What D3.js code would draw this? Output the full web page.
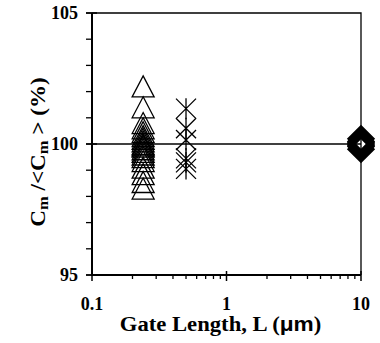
<!DOCTYPE html>
<html>
<head>
<meta charset="utf-8">
<script src="https://cdn.jsdelivr.net/npm/d3@7"></script>
<style>
body { margin: 0; background: #fff; }
text { font-family: "Liberation Serif", "Times New Roman", serif; font-weight: bold; fill: #000; }
</style>
</head>
<body>
<div id="chart"></div>
<script>
// gate length groups (um) and normalised capacitance values (%)
let triangleL = 0.24;
let triangleVals = [102.2, 101.4, 100.8, 100.6, 100.45, 100.3, 100.2, 100.1, 100.0, 99.95,
    99.9, 99.8, 99.7, 99.6, 99.5, 99.35, 99.1, 98.85, 98.55, 98.3];
let starL = 0.5;
let starVals = [101.35, 100.6, 100.15, 99.45, 99.3, 99.05];
let diamondL = 10;
let diamondVals = [100.2, 100.1, 100.0, 99.9, 99.8, 100.05, 99.95];

let xTicks = [0.1, 1, 10];
let yTicks = [95, 100, 105];

let boxWidth = 380;
let boxHeight = 343;
let margin = {top: 13, right: 19, bottom: 68, left: 92};
let width = boxWidth - margin.left - margin.right;
let height = boxHeight - margin.top - margin.bottom;

let svg = d3.select("#chart")
    .append("svg")
    .attr("width", boxWidth)
    .attr("height", boxHeight);

let plotGroup = svg.append("g")
    .attr("transform", `translate(${margin.left}, ${margin.top})`);

let x = d3.scaleLog().domain([0.1, 10]).range([0, width]);
let y = d3.scaleLinear().domain([95, 105]).range([height, 0]);

// frame on top and right
plotGroup.append("path")
    .attr("d", `M0,0H${width}V${height}`)
    .attr("fill", "none")
    .attr("stroke", "#000")
    .attr("stroke-width", 1.3);

// line at 100 %
plotGroup.append("line")
    .attr("x1", 0).attr("x2", width)
    .attr("y1", y(100)).attr("y2", y(100))
    .attr("stroke", "#000")
    .attr("stroke-width", 1.3);

// minor ticks
let xMinor = [];
[0.1, 1].forEach(d => { for (let k = 2; k < 10; k++) xMinor.push(d * k); });
let yMinor = d3.range(95, 106, 1);

plotGroup.selectAll(".xminor")
    .data(xMinor)
    .enter()
    .append("line")
    .attr("x1", d => x(d)).attr("x2", d => x(d))
    .attr("y1", height).attr("y2", height + 4)
    .attr("stroke", "#000").attr("stroke-width", 1.3);

plotGroup.selectAll(".xmajor")
    .data(xTicks)
    .enter()
    .append("line")
    .attr("x1", d => x(d)).attr("x2", d => x(d))
    .attr("y1", height - 4).attr("y2", height + 6)
    .attr("stroke", "#000").attr("stroke-width", 1.5);

plotGroup.selectAll(".yminor")
    .data(yMinor)
    .enter()
    .append("line")
    .attr("x1", -6).attr("x2", 0)
    .attr("y1", d => y(d)).attr("y2", d => y(d))
    .attr("stroke", "#000").attr("stroke-width", 1.3);

plotGroup.selectAll(".ymajor")
    .data(yTicks)
    .enter()
    .append("line")
    .attr("x1", -6).attr("x2", 5)
    .attr("y1", d => y(d)).attr("y2", d => y(d))
    .attr("stroke", "#000").attr("stroke-width", 1.5);

// axis lines
plotGroup.append("path")
    .attr("d", `M0,0V${height}H${width}`)
    .attr("fill", "none")
    .attr("stroke", "#000")
    .attr("stroke-width", 2);

// tick labels
plotGroup.selectAll(".xlab")
    .data(xTicks)
    .enter()
    .append("text")
    .attr("x", d => x(d))
    .attr("y", height + 35)
    .attr("text-anchor", "middle")
    .attr("font-size", "18px")
    .text(d => d);

plotGroup.selectAll(".ylab")
    .data(yTicks)
    .enter()
    .append("text")
    .attr("x", -14)
    .attr("y", d => y(d))
    .attr("dy", "0.35em")
    .attr("text-anchor", "end")
    .attr("font-size", "18px")
    .text(d => d);

// markers
let tri = "M0,-10.5L11,10.5L-11,10.5Z";
let star = "M-10,-10L10,10M-10,10L10,-10M0,-10.5V10.5";
let diamond = "M0,-12L12,0L0,12L-12,0Z";

plotGroup.selectAll(".tri")
    .data(triangleVals)
    .enter()
    .append("path")
    .attr("d", tri)
    .attr("transform", d => `translate(${x(triangleL)},${y(d)})`)
    .attr("fill", "none").attr("stroke", "#000").attr("stroke-width", 1.3);

plotGroup.selectAll(".star")
    .data(starVals)
    .enter()
    .append("path")
    .attr("d", star)
    .attr("transform", d => `translate(${x(starL)},${y(d)})`)
    .attr("fill", "none").attr("stroke", "#000").attr("stroke-width", 1.3);

plotGroup.selectAll(".dia")
    .data(diamondVals)
    .enter()
    .append("path")
    .attr("d", diamond)
    .attr("transform", d => `translate(${x(diamondL)},${y(d)})`)
    .attr("fill", "none").attr("stroke", "#000").attr("stroke-width", 3);

// axis titles
let xTitle = plotGroup.append("text")
    .attr("transform", `translate(${width / 2 - 6}, ${height + 56}) scale(1.08,1)`)
    .attr("text-anchor", "middle")
    .attr("font-size", "21px");
xTitle.append("tspan").text("Gate Length, L (");
xTitle.append("tspan").attr("font-family", "Liberation Sans, Arial, sans-serif").text("μm");
xTitle.append("tspan").text(")");

let yTitle = plotGroup.append("text")
    .attr("transform", `translate(-47, ${height / 2 + 8}) rotate(-90) scale(1.1,1)`)
    .attr("text-anchor", "middle")
    .attr("font-size", "21px");
yTitle.append("tspan").text("C");
yTitle.append("tspan").attr("font-size", "15px").attr("dy", 3).text("m");
yTitle.append("tspan").attr("dy", -3).text(" /<C");
yTitle.append("tspan").attr("font-size", "15px").attr("dy", 3).text("m");
yTitle.append("tspan").attr("dy", -3).text(" > (%)");
</script>
</body>
</html>
